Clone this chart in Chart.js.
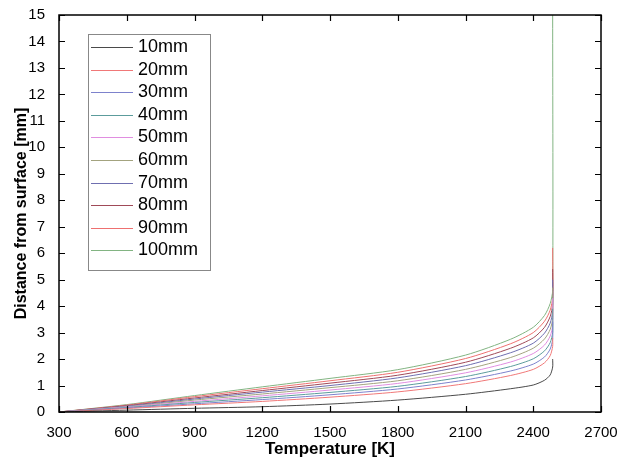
<!DOCTYPE html>
<html>
<head>
<meta charset="utf-8">
<script src="https://cdn.jsdelivr.net/npm/chart.js@4.4.0/dist/chart.umd.min.js"></script>
<style>
  html, body { margin: 0; padding: 0; background: #fff; }
  #wrap { width: 622px; height: 464px; }
</style>
</head>
<body>
<div id="wrap"><canvas id="chart"></canvas></div>
<script>
// Temperature profiles vs depth
// last two points share the same temperature: the vertical rise at the melt front
var TEMPS = [300, 600, 900, 1200, 1500, 1800, 2100, 2300, 2400, 2450, 2475, 2486, 2486];

var D10  = [0, 0.07, 0.14, 0.20, 0.30, 0.45, 0.67, 0.88, 1.02, 1.20, 1.40, 1.70, 2.0];
var D20  = [0, 0.13, 0.27, 0.40, 0.56, 0.76, 1.07, 1.38, 1.61, 1.86, 2.13, 2.48, 2.8];
var D30  = [0, 0.15, 0.31, 0.47, 0.65, 0.87, 1.21, 1.55, 1.81, 2.08, 2.38, 2.75, 3.4];
var D40  = [0, 0.17, 0.36, 0.54, 0.74, 0.97, 1.34, 1.72, 2.01, 2.31, 2.62, 3.01, 3.9];
var D50  = [0, 0.19, 0.40, 0.61, 0.83, 1.08, 1.48, 1.89, 2.21, 2.53, 2.87, 3.28, 4.3];
var D60  = [0, 0.20, 0.45, 0.68, 0.92, 1.18, 1.61, 2.06, 2.41, 2.76, 3.12, 3.54, 4.7];
var D70  = [0, 0.22, 0.49, 0.75, 1.00, 1.29, 1.75, 2.24, 2.60, 2.98, 3.36, 3.81, 5.0];
var D80  = [0, 0.24, 0.53, 0.81, 1.09, 1.39, 1.88, 2.41, 2.80, 3.20, 3.61, 4.07, 5.4];
var D90  = [0, 0.26, 0.58, 0.88, 1.18, 1.50, 2.02, 2.58, 3.00, 3.43, 3.85, 4.34, 6.2];
var D100 = [0, 0.28, 0.62, 0.95, 1.27, 1.60, 2.15, 2.75, 3.20, 3.65, 4.10, 4.60, 15];

var LABELS = ['10mm', '20mm', '30mm', '40mm', '50mm', '60mm', '70mm', '80mm', '90mm', '100mm'];
var SERIES = [D10, D20, D30, D40, D50, D60, D70, D80, D90, D100];
var COLORS = ['#4a4a4a', '#f07878', '#7d82cc', '#5c9c9c', '#e08ee0',
              '#a3a37f', '#6f6fb0', '#a04a58', '#ee7070', '#82b482'];

var X_TICKS = [300, 600, 900, 1200, 1500, 1800, 2100, 2400, 2700];

var FONT = 'Arial, "Liberation Sans", sans-serif';

var datasets = SERIES.map(function (s, i) {
  return {
    label: LABELS[i],
    data: s.map(function (v, j) { return { x: TEMPS[j], y: v }; }),
    borderColor: COLORS[i],
    borderWidth: 1,
    pointRadius: 0,
    tension: 0.25,
    fill: false
  };
});

// frame, inward ticks on all four sides, and the boxed legend
var framePlugin = {
  id: 'frame',
  afterDraw: function (chart) {
    var ctx = chart.ctx, a = chart.chartArea;
    var xs = chart.scales.x, ys = chart.scales.y;
    ctx.save();
    ctx.strokeStyle = '#000';
    ctx.lineWidth = 1.5;
    ctx.strokeRect(a.left, a.top, a.right - a.left, a.bottom - a.top);

    ctx.lineWidth = 1.2;
    ctx.beginPath();
    xs.ticks.forEach(function (t) {
      var px = Math.round(xs.getPixelForValue(t.value)) + 0.5;
      ctx.moveTo(px, a.bottom); ctx.lineTo(px, a.bottom - 6);
      ctx.moveTo(px, a.top); ctx.lineTo(px, a.top + 6);
    });
    ys.ticks.forEach(function (t) {
      var py = Math.round(ys.getPixelForValue(t.value)) + 0.5;
      ctx.moveTo(a.left, py); ctx.lineTo(a.left + 6, py);
      ctx.moveTo(a.right, py); ctx.lineTo(a.right - 6, py);
    });
    ctx.stroke();

    // legend
    var lx = 88, ly = 34, lw = 122, lh = 236;
    ctx.lineWidth = 1;
    ctx.strokeStyle = '#888';
    ctx.fillStyle = '#fff';
    ctx.fillRect(lx + 0.5, ly + 0.5, lw, lh);
    ctx.strokeRect(lx + 0.5, ly + 0.5, lw, lh);
    ctx.font = '18px ' + FONT;
    ctx.textBaseline = 'middle';
    chart.data.datasets.forEach(function (ds, i) {
      var y = Math.round(ly + 13 + i * 22.6) + 0.5;
      ctx.strokeStyle = ds.borderColor;
      ctx.lineWidth = 1;
      ctx.beginPath();
      ctx.moveTo(lx + 3, y); ctx.lineTo(lx + 45, y);
      ctx.stroke();
      ctx.fillStyle = '#000';
      ctx.fillText(ds.label, lx + 50, y);
    });
    ctx.restore();
  }
};

new Chart(document.getElementById('chart').getContext('2d'), {
  type: 'scatter',
  data: { datasets: datasets },
  plugins: [framePlugin],
  options: {
    responsive: true,
    maintainAspectRatio: false,
    animation: false,
    showLine: true,
    layout: { padding: { left: 0, right: 21, top: 14, bottom: 0 } },
    plugins: {
      legend: { display: false },
      tooltip: { enabled: false }
    },
    scales: {
      x: {
        type: 'linear',
        min: 300,
        max: 2700,
        afterBuildTicks: function (scale) {
          scale.ticks = X_TICKS.map(function (v) { return { value: v }; });
        },
        grid: { display: false },
        border: { display: false },
        ticks: {
          color: '#000',
          font: { size: 15, family: FONT },
          padding: 4,
          maxRotation: 0,
          callback: function (v) { return String(v); }
        },
        title: {
          display: true,
          text: 'Temperature [K]',
          color: '#000',
          font: { size: 17, weight: 'bold', family: FONT },
          padding: { top: 0, bottom: 4 }
        },
        afterFit: function (scale) { scale.height = 52; }
      },
      y: {
        type: 'linear',
        min: 0,
        max: 15,
        grid: { display: false },
        border: { display: false },
        ticks: { stepSize: 1, color: '#000', font: { size: 15, family: FONT }, padding: 6 },
        title: {
          display: true,
          text: 'Distance from surface [mm]',
          color: '#000',
          font: { size: 16, weight: 'bold', family: FONT },
          padding: { top: 12, bottom: 0 }
        },
        afterFit: function (scale) { scale.width = 59; }
      }
    }
  }
});
</script>
</body>
</html>
